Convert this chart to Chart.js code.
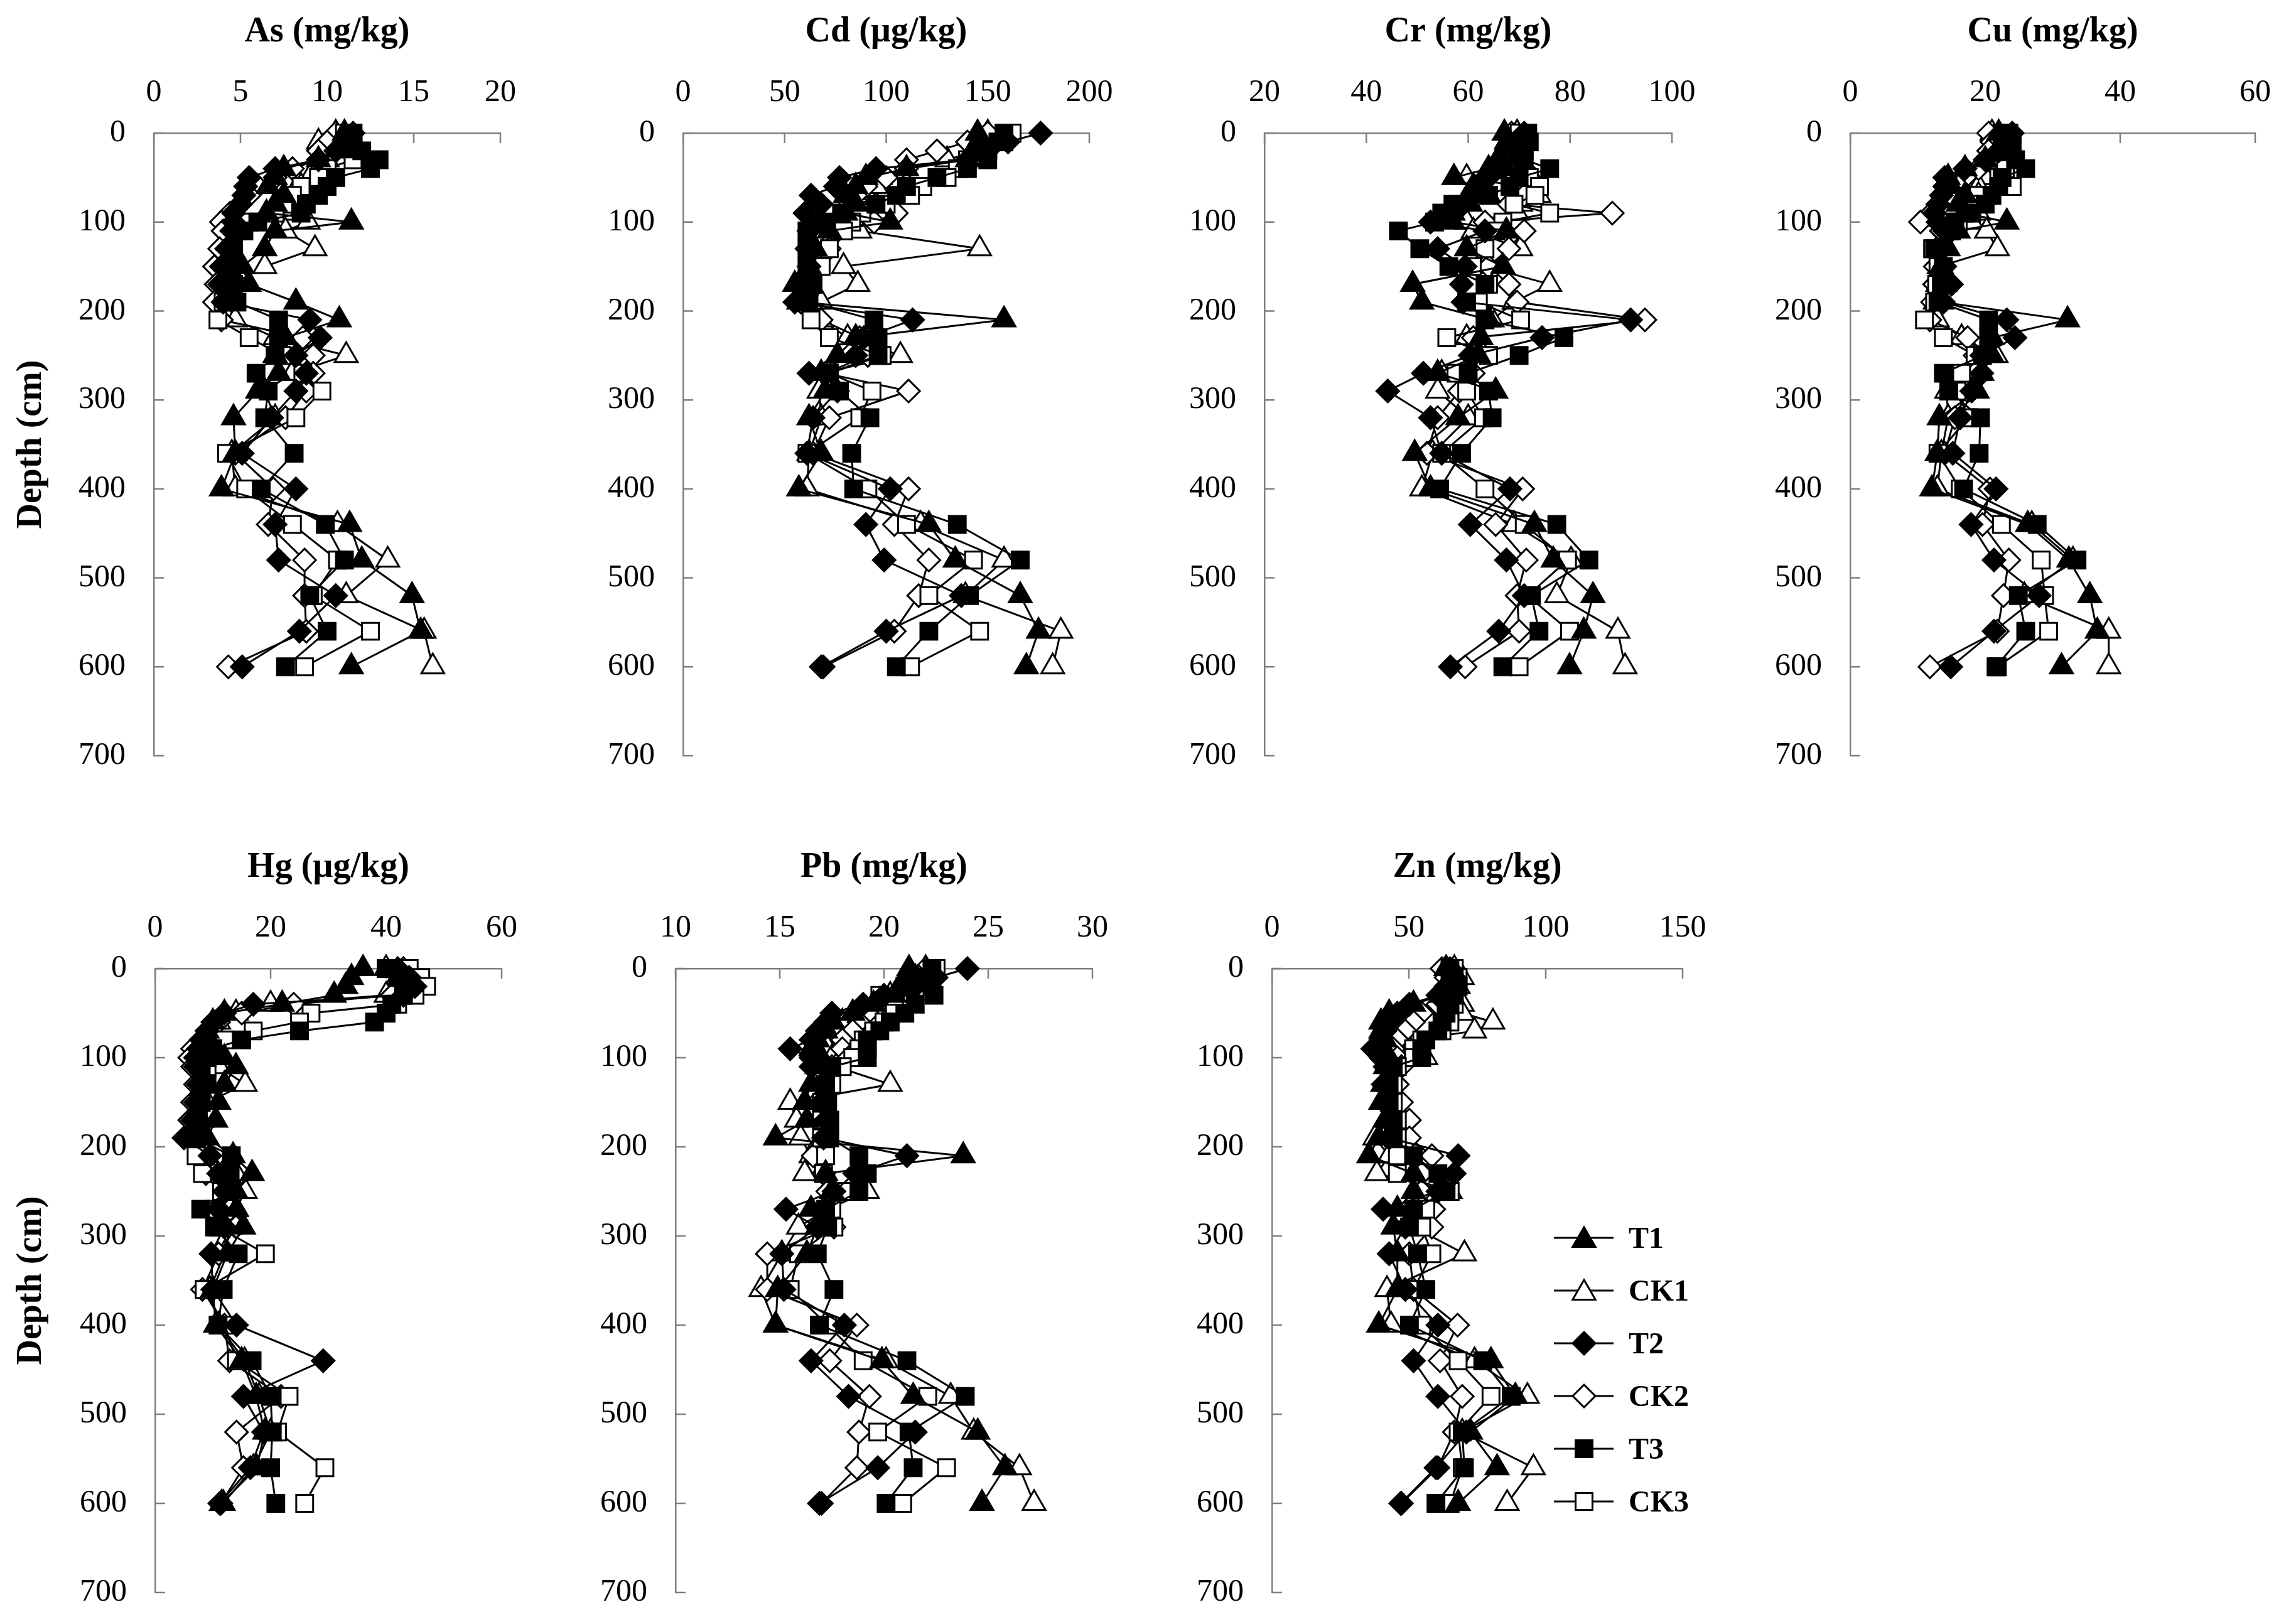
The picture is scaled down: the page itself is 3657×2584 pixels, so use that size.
<!DOCTYPE html>
<html>
<head>
<meta charset="utf-8">
<script src="https://cdn.jsdelivr.net/npm/chart.js@4.4.1/dist/chart.umd.min.js"></script>
<style>
  html, body { margin: 0; padding: 0; background: #fff; width: 3657px; height: 2584px; overflow: hidden; }
  canvas.panel { position: absolute; }
  .leg { position: absolute; font-family: "Liberation Serif", serif; font-weight: bold; font-size: 48px; color: #000; line-height: 60px; }
</style>
</head>
<body>
<script>
// sampling depths (cm), shared by every profile
const depth = [0,10,20,30,40,50,60,70,80,90,100,110,130,150,170,190,210,230,250,270,290,320,360,400,440,480,520,560,600];
const seriesNames = ['T1','CK1','T2','CK2','T3','CK3'];

// As (mg/kg)
const asT1  = [11.0,11.5,11.0,9.5,7.5,7.0,6.6,7.5,7.0,6.5,11.4,7.0,6.4,5.1,5.5,8.2,10.7,7.6,7.0,7.2,6.0,4.6,4.7,3.9,11.3,12.0,14.9,15.4,11.4];
const asCK1 = [10.5,9.5,10.5,10.0,9.5,9.0,8.5,8.0,7.8,7.5,8.9,7.6,9.3,6.4,4.5,4.2,4.7,7.0,11.1,8.0,6.4,7.0,4.5,4.7,10.6,13.5,11.1,15.6,16.1];
const asT2  = [11.5,11.0,10.5,9.5,7.0,5.5,5.3,5.2,5.0,4.6,4.6,4.5,4.2,3.9,3.8,4.0,9.0,9.6,8.2,8.8,8.2,6.8,5.1,8.2,7.0,7.2,10.5,8.4,5.1];
const asCK2 = [10.5,10.0,9.5,9.5,8.0,7.0,6.0,5.5,5.0,4.4,3.9,4.0,3.8,3.5,3.6,3.5,3.9,8.6,9.2,9.2,8.8,7.6,4.7,6.9,6.6,8.7,8.7,8.8,4.3];
const asT3  = [11.5,11.5,12.0,13.0,12.5,10.5,10.0,9.5,8.8,8.5,6.0,5.2,4.6,4.5,4.6,4.8,7.2,7.2,7.0,5.9,6.6,6.4,8.1,6.2,9.9,11.0,9.0,10.0,7.6];
const asCK3 = [11.0,11.0,11.5,11.5,10.0,9.5,8.5,8.0,7.5,7.0,5.5,4.8,4.5,4.2,4.2,4.0,3.7,5.5,7.4,8.6,9.7,8.2,4.2,5.3,8.0,10.6,9.2,12.5,8.7];

// Cd (µg/kg)
const cdT1  = [145,145,145,140,110,90,85,80,85,80,102,72,65,62,55,57,158,85,76,68,70,62,68,57,121,134,166,175,169];
const cdCK1 = [150,150,145,130,110,97,95,88,82,78,78,87,146,79,86,68,68,81,107,68,67,68,62,61,117,158,139,186,182];
const cdT2  = [176,160,150,140,95,77,75,63,68,60,64,62,61,62,57,55,113,89,85,62,76,64,61,102,90,99,137,100,68];
const cdCK2 = [150,140,125,110,110,100,90,85,95,105,94,76,72,66,61,58,68,87,91,70,111,72,64,111,104,121,116,104,69];
const cdT3  = [158,155,150,150,140,125,110,105,95,78,70,61,61,61,64,62,94,96,96,72,77,92,83,84,135,166,141,121,105];
const cdCK3 = [162,158,150,140,135,130,118,112,100,88,83,79,72,68,64,61,63,72,98,72,93,87,61,91,110,143,121,146,112];

// Cr (mg/kg)
const crT1  = [67.1,67.5,66.8,66,64,57.2,61,64,60.4,57,57,67.5,59.7,66.8,49.1,50.9,64,62.5,62,54,65.4,58,49.5,52.6,73,76.7,84.5,82.7,79.9];
const crCK1 = [69.6,70,68,69,67,59.7,70,73.9,70.3,69.6,59.7,61,70.3,63.3,76,69,64.7,59.7,63,54.8,54,60,53,50.9,69,80.2,77.4,89.4,90.8];
const crT2  = [71,70.5,69.6,70,66.8,64,62,61,59,57,52.6,63.3,54,59.4,58.7,59,91.9,74.5,60.4,51.2,44.2,52.6,54.8,68.2,60.4,67.5,71,66,56.5];
const crCK2 = [68.5,69,67.5,68.5,71,72,73,71,68,88.3,63.3,71,68,64,68,69.6,94.7,61,61,61,58.3,54,51.9,70.7,65.4,71.4,69.6,70,59.4];
const crT3  = [71.7,72,71,71,76,70,68.2,64,57,54.8,53.4,46.3,50.5,56.2,63.3,59.7,63.3,78.8,70,60,64,64.7,58.7,54.4,77.4,83.7,72.4,73.9,66.8];
const crCK3 = [70,70.5,69,70,70,72,74,73.1,69,76,66.8,65.4,63.3,60.8,64,62,70.3,55.8,64,57.6,59.7,63,54.8,63.3,71,79.5,71.7,79.9,70];

// Cu (mg/kg)
const cuT1  = [22,23,22,20,17,14.5,15,17,16,17,23.2,16,14.5,13.5,14,13.5,32.2,21,21,19.5,18.8,13.2,12.9,12.1,26.3,32.4,35.5,36.6,31.3];
const cuCK1 = [21,22,21.5,21,21,20,19,19,18,19,18,20.2,21.8,13.2,13,12.6,12.9,16.5,21.6,19,14.3,14.5,13.5,12.9,26.9,33,25.8,38.3,38.3];
const cuT2  = [24,23.5,22,20,17,14,14,13.5,13,12.5,13,14,13.5,14,15,13.8,23.2,24.4,19.5,19.5,18,16.3,15.2,21.6,17.9,21.3,28,21.3,14.9];
const cuCK2 = [20.5,21,20.5,20,19,17,16,14.5,13,12,10.4,13.5,12.8,12.6,12.5,12.2,11.8,17.4,18.5,18.5,17.4,15.5,14,20.7,19.6,23.5,22.7,21.8,11.8];
const cuT3  = [23.5,24,23,24.5,26,22.5,22,21,20,18,15.5,14.5,12.5,13.8,13.5,13,20.5,20.5,19.6,13.8,14.6,19.3,19.1,16.8,27.7,33.6,24.9,26,21.6];
const cuCK3 = [22.5,23,22.5,22,23,22,24,19,18,17,16,15,12.2,13,12.8,12.5,11,13.8,18.5,16.5,15.8,17.5,13,16.3,22.4,28.3,28.8,29.4,21.8];

// Hg (µg/kg)
const hgT1  = [36,34,33,31,22,12,10,9,9,8.5,12,14,12,11,10.5,9,13.5,16.8,14,14.1,15.3,12.5,10,10.5,15,17.5,19,17.6,11.5];
const hgCK1 = [40,42,43,40,20,14,11,10,9,9,10,11,15.6,9,8,7,9,14,15.6,14,13,12,9.5,11,15.5,18,20,17,11.8];
const hgT2  = [42,44,45,43,17,12,10,9,8,7.5,7,7,7.5,7,6.5,5,9.5,11,12,11,12,9.7,10,14.1,29.1,15.3,18.8,16.5,11.2];
const hgCK2 = [43,45,44,41,24,15,11,9,8,6.5,6,6.5,7,6.5,6,6,8,8.8,12,13,14,11,8.2,12,12.9,21.8,14.1,15.3,11.4];
const hgT3  = [40,42,44,43,41,40,38,25,15,10,9,8,9,8,7.5,7,13.2,13,13,7.9,10.3,14.4,11.8,10.9,16.8,20,20.3,20,20.9];
const hgCK3 = [44,46,47,45,42,27,25,17,12,10,9,9,8,7.5,7,6.5,7.1,8.2,11.5,10.5,11,19.1,8.5,12,14.1,23.2,21.2,29.4,25.9];

// Pb (mg/kg)
const pbT1  = [21.2,21,21,20.5,19.5,18.5,17.5,17.2,16.8,16.5,17,16.8,16.5,16.2,16.3,14.8,23.8,17.2,17.5,16.5,16.8,16.3,14.9,14.8,19.9,21.4,24.5,25.8,24.7];
const pbCK1 = [22,21.5,21,20.3,19.5,18.5,18,17.8,17.5,17.3,17.5,17.7,20.3,15.5,15.8,16,16.5,16.2,19.2,17.3,15.9,15.1,14.1,14.8,20.1,23.2,24.3,26.5,27.2];
const pbT2  = [24,22.5,21.5,20,19,17.5,17.2,16.8,16.5,15.5,16.5,16.5,17,17,17.2,17.1,21.1,18.6,17.6,15.3,16.8,15.1,15.2,18.1,16.5,18.3,21.5,19.7,16.9];
const pbCK2 = [22,21.7,21.2,20.5,19.8,19.2,18.8,18.5,18,18,18.3,17.5,17.2,16.8,17,17.2,16.6,17.1,17.3,17.3,17.6,14.4,14.4,18.7,17.4,19.3,18.8,18.7,17];
const pbT3  = [22.3,22,22.3,22.4,21.5,21,20.3,19.8,19.2,19.2,19.2,17.5,17.2,17.3,17.4,17.4,18.8,19.2,18.8,17.2,17.3,16.8,17.6,16.9,21.1,23.9,21.2,21.4,20.1];
const pbCK3 = [22.5,22,21,19.8,20.5,20.5,20,19.5,19,18.8,18.5,18,17.5,17,17,17,17.2,17.1,18,17.5,17.6,15.9,15.5,17.3,19,22.1,19.7,23,20.9];

// Zn (mg/kg)
const znT1  = [63.6,65,64,62,51.7,42.8,39.8,39.8,41.3,39.8,42.8,41.5,40.5,39.8,41.3,39,35.4,51.7,51.7,45.8,44.3,45.8,45.8,39,80,88.9,72.5,82.2,68];
const znCK1 = [66.6,69.5,68,66.6,69.5,69.5,80.7,74,51.7,50.2,56.2,44.3,42.8,41.3,42.8,37.6,42.8,38.3,65.1,54.7,51.7,70.3,42,43.5,74,93.3,69.5,95.5,85.9];
const znT2  = [65,66.6,63.6,60.6,50.2,45.8,42.8,41.3,39.8,36.8,39.8,41.3,40.6,41.3,42.8,42.8,68,66.6,60.6,40.6,48.7,42.8,48.7,60.6,51.7,60.6,71,59.9,47];
const znCK2 = [62.1,63.6,65,63.6,60.6,54.7,51.7,48.7,45.8,44.3,45.8,47.3,45.8,47.3,50.2,50.2,58.4,54.7,54.7,59.1,58.4,50.2,51.7,67.8,61.4,69.5,66.6,60.6,47.3];
const znT3  = [65,66.6,68,66.6,65,63.6,62.1,60.6,56.2,54.7,54.7,44.3,42.8,42.8,44.3,44.3,51.7,60.6,63.6,51.7,50.2,53.2,56.2,50.2,77,87.4,69.5,70.3,59.9];
const znCK3 = [66.6,68,66.6,65,66.6,65,65,62.1,54.7,51.7,51.7,45.8,44.3,44.3,45.8,45.8,45.8,45.8,65.1,56.2,54.7,58.4,51.7,54.7,68,80,68,69.5,65.1];

const FONT = '"Liberation Serif", "Times New Roman", serif';
const AXIS = '#808080';

// marker style per treatment (filled ones sit on top of the open ones)
const markers = [
  {style: 'triangle', fill: '#000', r: 21, order: 2},
  {style: 'triangle', fill: '#fff', r: 21, order: 5},
  {style: 'rectRot',  fill: '#000', r: 18, order: 1},
  {style: 'rectRot',  fill: '#fff', r: 18, order: 4},
  {style: 'rect',     fill: '#000', r: 19, order: 0},
  {style: 'rect',     fill: '#fff', r: 19, order: 3}
];

const panels = [
  {title: 'As (mg/kg)', min: 0,  max: 20,  step: 5,  data: [asT1,asCK1,asT2,asCK2,asT3,asCK3], left: 245,  right: 797,  row: 0, depthTitle: true},
  {title: 'Cd (µg/kg)', min: 0,  max: 200, step: 50, data: [cdT1,cdCK1,cdT2,cdCK2,cdT3,cdCK3], left: 1088, right: 1735, row: 0},
  {title: 'Cr (mg/kg)', min: 20, max: 100, step: 20, data: [crT1,crCK1,crT2,crCK2,crT3,crCK3], left: 2014, right: 2663, row: 0},
  {title: 'Cu (mg/kg)', min: 0,  max: 60,  step: 20, data: [cuT1,cuCK1,cuT2,cuCK2,cuT3,cuCK3], left: 2947, right: 3592, row: 0},
  {title: 'Hg (µg/kg)', min: 0,  max: 60,  step: 20, data: [hgT1,hgCK1,hgT2,hgCK2,hgT3,hgCK3], left: 247,  right: 799,  row: 1, depthTitle: true},
  {title: 'Pb (mg/kg)', min: 10, max: 30,  step: 5,  data: [pbT1,pbCK1,pbT2,pbCK2,pbT3,pbCK3], left: 1076, right: 1740, row: 1},
  {title: 'Zn (mg/kg)', min: 0,  max: 150, step: 50, data: [znT1,znCK1,znT2,znCK2,znT3,znCK3], left: 2026, right: 2680, row: 1}
];
const rows = [{top: 212, bottom: 1204}, {top: 1543, bottom: 2537}];
// padding larger than any label overhang, so the plot box lands where it should
const X_H = 212, PAD_R = 100, PAD_B = 90;

// short tick marks pointing into the plot, like the original
const innerTicks = {
  id: 'innerTicks',
  beforeDatasetsDraw(chart) {
    const {ctx, chartArea: a, scales: {x, y}} = chart;
    ctx.save();
    ctx.strokeStyle = AXIS;
    ctx.lineWidth = 2.5;
    ctx.beginPath();
    x.ticks.forEach(t => { const px = x.getPixelForValue(t.value); ctx.moveTo(px, a.top); ctx.lineTo(px, a.top + 16); });
    y.ticks.forEach(t => { const py = y.getPixelForValue(t.value); ctx.moveTo(a.left, py); ctx.lineTo(a.left + 16, py); });
    ctx.stroke();
    ctx.restore();
  }
};

panels.forEach(p => {
  const row = rows[p.row];
  const yW = p.depthTitle ? p.left : 180;
  const canvas = document.createElement('canvas');
  canvas.className = 'panel';
  canvas.width = yW + (p.right - p.left) + PAD_R;
  canvas.height = X_H + (row.bottom - row.top) + PAD_B;
  canvas.style.left = (p.left - yW) + 'px';
  canvas.style.top = (row.top - X_H) + 'px';
  document.body.appendChild(canvas);

  const datasets = p.data.map((vals, i) => ({
    label: seriesNames[i],
    data: vals.map((v, k) => ({x: v, y: depth[k]})),
    showLine: true,
    borderColor: '#000',
    borderWidth: 3,
    pointStyle: markers[i].style,
    pointRadius: markers[i].r,
    pointBackgroundColor: markers[i].fill,
    pointBorderColor: '#000',
    pointBorderWidth: 3,
    order: markers[i].order
  }));

  new Chart(canvas, {
    type: 'scatter',
    data: {datasets},
    options: {
      responsive: false,
      animation: false,
      devicePixelRatio: 1,
      clip: false,
      layout: {padding: {left: 0, top: 0, right: PAD_R, bottom: PAD_B}},
      plugins: {legend: {display: false}, tooltip: {enabled: false}},
      scales: {
        x: {
          type: 'linear', position: 'top', min: p.min, max: p.max,
          ticks: {stepSize: p.step, color: '#000', font: {family: FONT, size: 50}, padding: 34, maxRotation: 0},
          grid: {display: false, drawTicks: false},
          border: {display: true, color: AXIS, width: 2.5},
          title: {display: true, text: p.title, color: '#000', font: {family: FONT, size: 56, weight: 'bold'}, padding: {top: 18, bottom: 0}},
          afterFit(s) { s.height = X_H; }
        },
        y: {
          type: 'linear', position: 'left', reverse: true, min: 0, max: 700,
          ticks: {stepSize: 100, color: '#000', font: {family: FONT, size: 50}, padding: 45},
          grid: {display: false, drawTicks: false},
          border: {display: true, color: AXIS, width: 2.5},
          title: {display: !!p.depthTitle, text: 'Depth (cm)', color: '#000', font: {family: FONT, size: 56, weight: 'bold'}, padding: {top: 17, bottom: 0}},
          afterFit(s) { s.width = yW; }
        }
      }
    },
    plugins: [innerTicks]
  });
});

// legend (beside the Zn panel)
const legendTop = 1972, legendStep = 84;
seriesNames.forEach((name, i) => {
  const c = document.createElement('canvas');
  c.width = 95; c.height = 60;
  c.style.position = 'absolute';
  c.style.left = '2475px';
  c.style.top = (legendTop + legendStep * i - 30) + 'px';
  document.body.appendChild(c);
  const ctx = c.getContext('2d');
  ctx.strokeStyle = '#000';
  ctx.lineWidth = 3;
  ctx.beginPath(); ctx.moveTo(0, 30); ctx.lineTo(95, 30); ctx.stroke();
  const m = markers[i], cx = 48, cy = 30, r = m.r;
  ctx.beginPath();
  if (m.style === 'triangle') {
    for (let k = 0; k < 3; k++) {
      const a = k * 2 * Math.PI / 3;
      const px = cx + Math.sin(a) * r, py = cy + 4 - Math.cos(a) * r;
      k ? ctx.lineTo(px, py) : ctx.moveTo(px, py);
    }
  } else if (m.style === 'rectRot') {
    ctx.moveTo(cx, cy - r); ctx.lineTo(cx + r, cy); ctx.lineTo(cx, cy + r); ctx.lineTo(cx - r, cy);
  } else {
    const s = Math.SQRT1_2 * r;
    ctx.rect(cx - s, cy - s, 2 * s, 2 * s);
  }
  ctx.closePath();
  ctx.fillStyle = m.fill;
  ctx.fill();
  ctx.stroke();

  const t = document.createElement('div');
  t.className = 'leg';
  t.textContent = name;
  t.style.left = '2594px';
  t.style.top = (legendTop + legendStep * i - 30) + 'px';
  document.body.appendChild(t);
});
</script>
</body>
</html>
